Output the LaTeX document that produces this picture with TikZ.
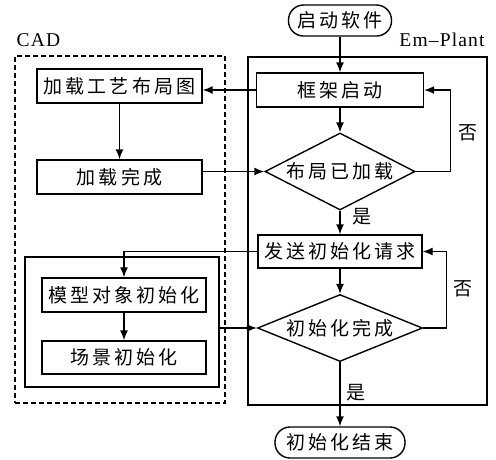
\documentclass[tikz,border=0pt]{standalone}
\usepackage{fontspec}
\setmainfont[LetterSpace=6]{Liberation Serif}
\newfontfamily\cjk[LetterSpace=16]{Noto Sans CJK SC}
\usetikzlibrary{arrows.meta,shapes.geometric}

\begin{document}
\begin{tikzpicture}[x=1pt, y=-1pt, line width=1.4pt,
	every node/.style={font=\cjk\fontsize{19}{19}\selectfont},
	box/.style={draw, rectangle, inner sep=0pt},
	term/.style={draw, rectangle, rounded corners=15pt, minimum height=31pt, inner sep=0pt},
	test/.style={draw, diamond, inner sep=0pt},
	flow/.style={-{Latex[length=10pt,width=8pt]}},
	tag/.style={font=\fontsize{19.5}{19.5}\selectfont}]
	\useasboundingbox (0,0) rectangle (496,459);
	%Rahmen
	\node[box, dash pattern=on 5pt off 3pt, minimum width=210pt, minimum height=347pt] (cad) at (120,229.5) {};
	\node[box, minimum width=239pt, minimum height=348pt] (emplant) at (367.5,231) {};
	\node[tag] (cadlabel) at (38.5,40) {CAD};
	\node[tag] (emlabel)  at (442,39.5) {Em–Plant};
	%Em-Plant
	\node[term, minimum width=103pt] (start)   at (340,20.5)  {启动软件};
	\node[box, minimum width=167pt, minimum height=34pt] (frame)   at (340,90)    {框架启动};
	\node[test, minimum width=150pt, minimum height=77pt, label=center:布局已加载] (loaded) at (340,171.5) {};
	\node[box, minimum width=164pt, minimum height=33pt] (request) at (340,251.5) {发送初始化请求};
	\node[test, minimum width=165pt, minimum height=67pt, label=center:初始化完成] (ready) at (340,328) {};
	\node[term, minimum width=130pt] (finish)  at (340,442.5) {初始化结束};
	%CAD
	\node[box, minimum width=165pt, minimum height=34pt] (layout)   at (119.5,86)  {加载工艺布局图};
	\node[box, minimum width=165pt, minimum height=34pt] (loaddone) at (119.5,177) {加载完成};
	\node[box, minimum width=194pt, minimum height=130pt] (initgroup) at (122,322) {};
	\node[box, minimum width=164pt, minimum height=34pt] (model)    at (124,295)   {模型对象初始化};
	\node[box, minimum width=164pt, minimum height=33pt] (scene)    at (124,357.5) {场景初始化};
	%ja / nein
	\node (yes1) at (362,217) {是};
	\node (yes2) at (356,393) {是};
	\node (no1)  at (468,133) {否};
	\node (no2)  at (463,289) {否};
	%Pfeile
	\draw[flow] (start) -- (frame);
	\draw[flow] (frame) -- (loaded);
	\draw[flow] (loaded) -- (request);
	\draw[flow] (request) -- (ready);
	\draw[flow] (ready) -- (finish);
	\draw[flow] (loaded.east) -- ++(35,0) |- (frame.east);
	\draw[flow] (ready.east) -- ++(23,0) |- (request.east);
	\draw[flow] (frame.west) -- (frame.west -| layout.east);
	\draw[flow] (layout) -- (loaddone);
	\draw[flow] (loaddone.east |- loaded.west) -- (loaded.west);
	\draw[flow] (request.west) -| (model.north);
	\draw[flow] (model) -- (scene);
	\draw[flow] (initgroup.east |- ready.west) -- (ready.west);
\end{tikzpicture}
\end{document}
